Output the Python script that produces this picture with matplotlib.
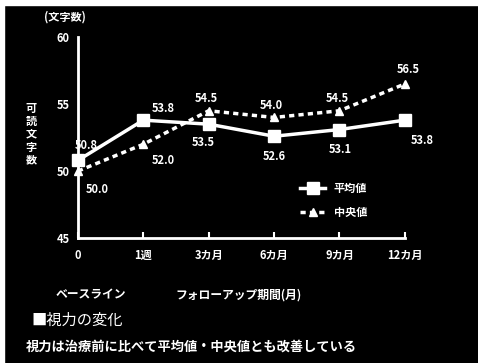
import matplotlib
matplotlib.use("Agg")
import matplotlib.pyplot as plt
import numpy as np

plt.rcParams['font.family'] = ['Noto Sans CJK JP', 'DejaVu Sans']

# data
periods = ["0", "1週", "3カ月", "6カ月", "9カ月", "12カ月"]
mean_vals = [50.8, 53.8, 53.5, 52.6, 53.1, 53.8]
median_vals = [50.0, 52.0, 54.5, 54.0, 54.5, 56.5]
mean_labels = ["50.8", "53.8", "53.5", "52.6", "53.1", "53.8"]
median_labels = ["50.0", "52.0", "54.5", "54.0", "54.5", "56.5"]
y_ticks = [45, 50, 55, 60]

fig = plt.figure(figsize=(4.78, 3.63), dpi=100, facecolor="black")
# white scan border on top and left
fig.patches.append(plt.Rectangle((0, 0.985), 1, 0.015, transform=fig.transFigure,
                                 color="white", zorder=0))
fig.patches.append(plt.Rectangle((0, 0), 0.008, 1, transform=fig.transFigure,
                                 color="white", zorder=0))

ax = fig.add_axes([0.163, 0.344, 0.684, 0.554])
ax.set_facecolor("black")
x = np.arange(len(periods))

ax.plot(x, mean_vals, color="white", lw=2.5, marker="s", ms=9,
        label="平均値", clip_on=False, zorder=3)
ax.plot(x, median_vals, color="white", lw=2.5, ls=(0, (1.5, 1.2)), marker="^", ms=6,
        label="中央値", clip_on=False, zorder=3)

# value labels
mean_off = [(-2, 8), (6, 6), (-12, -16), (-8, -17), (-8, -17), (4, -17)]
median_off = [(6, -16), (6, -14), (-10, 6), (-10, 6), (-10, 6), (-6, 8)]
for i in range(len(x)):
    ax.annotate(mean_labels[i], (x[i], mean_vals[i]), textcoords="offset points",
                xytext=mean_off[i], color="white", fontsize=8, fontweight="bold")
    ax.annotate(median_labels[i], (x[i], median_vals[i]), textcoords="offset points",
                xytext=median_off[i], color="white", fontsize=8, fontweight="bold")

ax.set_xlim(0, 5)
ax.set_ylim(45, 60)
ax.set_yticks(y_ticks)
ax.set_yticklabels([str(v) for v in y_ticks], color="white", fontsize=8, fontweight="bold")
ax.set_xticks(x)
ax.set_xticklabels(periods, color="white", fontsize=8, fontweight="bold")
ax.tick_params(axis="x", direction="in", length=4, width=1.5, color="white", pad=8)
ax.tick_params(axis="y", length=0, pad=6)
for s in ["top", "right"]:
    ax.spines[s].set_visible(False)
for s in ["left", "bottom"]:
    ax.spines[s].set_color("white")
    ax.spines[s].set_linewidth(2)

leg = ax.legend(loc="upper left", bbox_to_anchor=(0.65, 0.33), frameon=False,
                labelcolor="white", prop={"size": 8, "weight": "bold"},
                handlelength=2.2, labelspacing=1.0)

fig.text(0.135, 0.953, "(文字数)", color="white", fontsize=8, fontweight="bold", ha="center", va="center")
fig.text(0.065, 0.63, "可\n読\n文\n字\n数", color="white", fontsize=8, fontweight="bold",
         ha="center", va="center", linespacing=1.0)
fig.text(0.19, 0.187, "ベースライン", color="white", fontsize=8.5, fontweight="bold", ha="center", va="center")
fig.text(0.5, 0.187, "フォローアップ期間(月)", color="white", fontsize=8.5, fontweight="bold", ha="center", va="center")
fig.text(0.065, 0.118, "■視力の変化", color="white", fontsize=11, ha="left", va="center")
fig.text(0.055, 0.045, "視力は治療前に比べて平均値・中央値とも改善している", color="white",
         fontsize=9.5, fontweight="bold", ha="left", va="center")

fig.savefig("out.png", dpi=100, facecolor="black")
